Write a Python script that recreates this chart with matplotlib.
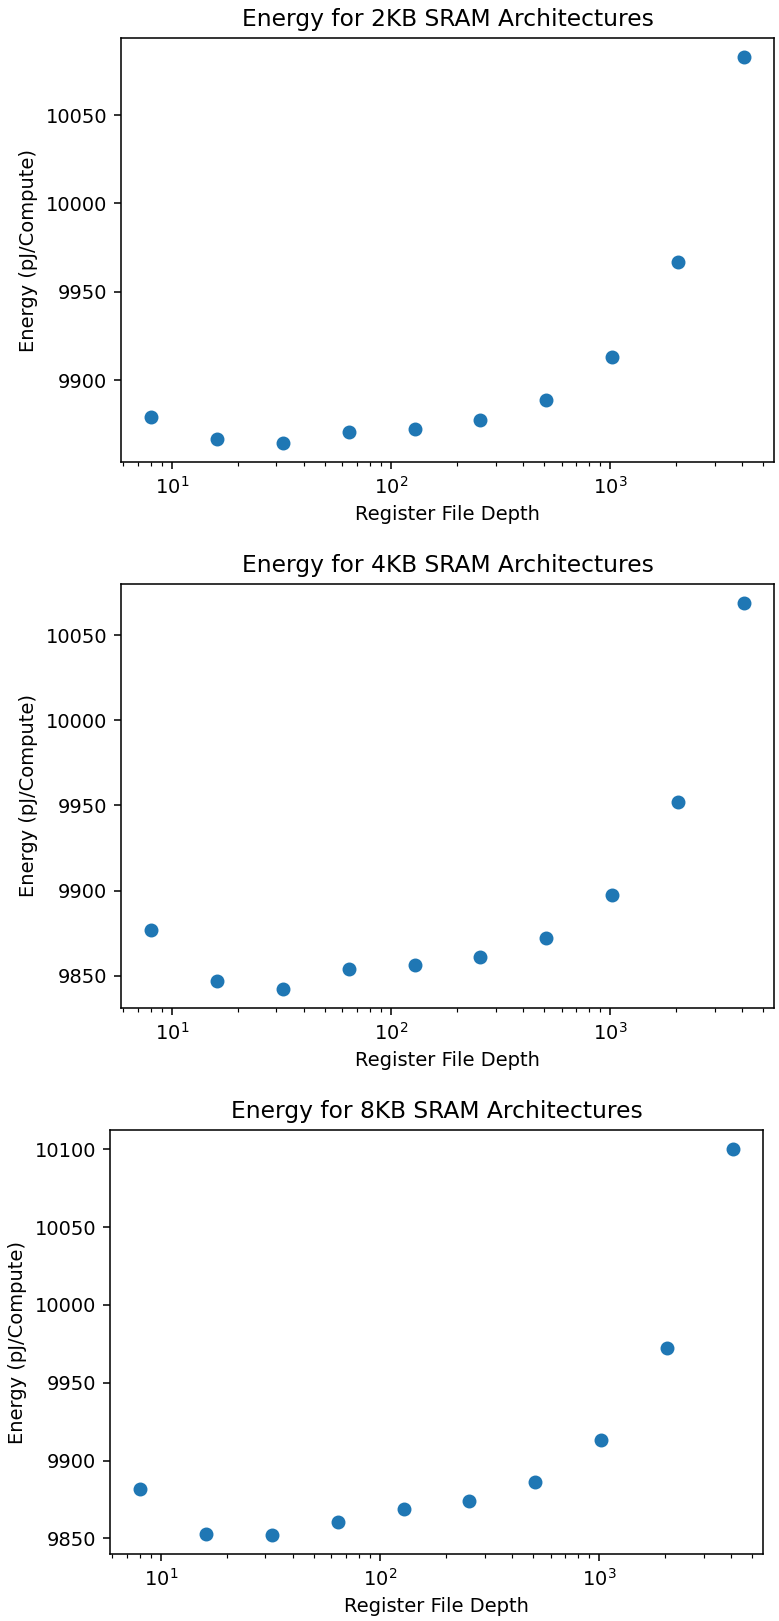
import matplotlib
matplotlib.use("Agg")
import matplotlib.pyplot as plt

depths = [8, 16, 32, 64, 128, 256, 512, 1024, 2048, 4096]
energy_2kb = [9879.0, 9866.7, 9864.5, 9870.4, 9872.5, 9877.5, 9888.7, 9913.2, 9967.0, 10082.7]
energy_4kb = [9877.0, 9847.0, 9842.3, 9853.8, 9856.2, 9860.8, 9872.2, 9897.5, 9951.8, 10068.8]
energy_8kb = [9881.8, 9853.0, 9852.4, 9860.7, 9868.7, 9874.2, 9886.5, 9913.3, 9972.1, 10100.0]
titles = ["Energy for 2KB SRAM Architectures",
          "Energy for 4KB SRAM Architectures",
          "Energy for 8KB SRAM Architectures"]

W, H = 779, 1621
DPI = 140
fig = plt.figure(figsize=(W / DPI, H / DPI), dpi=DPI)

# axes boxes in pixels: left, right, top, bottom
boxes = [(121, 774, 38, 462), (121, 774, 584, 1008), (110, 763, 1130, 1554)]
series = [energy_2kb, energy_4kb, energy_8kb]

for (l, r, t, b), ys, title in zip(boxes, series, titles):
    ax = fig.add_axes([l / W, 1 - b / H, (r - l) / W, (b - t) / H])
    ax.scatter(depths, ys, s=38, color="#1f77b4")
    ax.set_xscale("log")
    ax.set_title(title)
    ax.set_xlabel("Register File Depth")
    ax.set_ylabel("Energy (pJ/Compute)")

fig.savefig("out.png", dpi=DPI)
